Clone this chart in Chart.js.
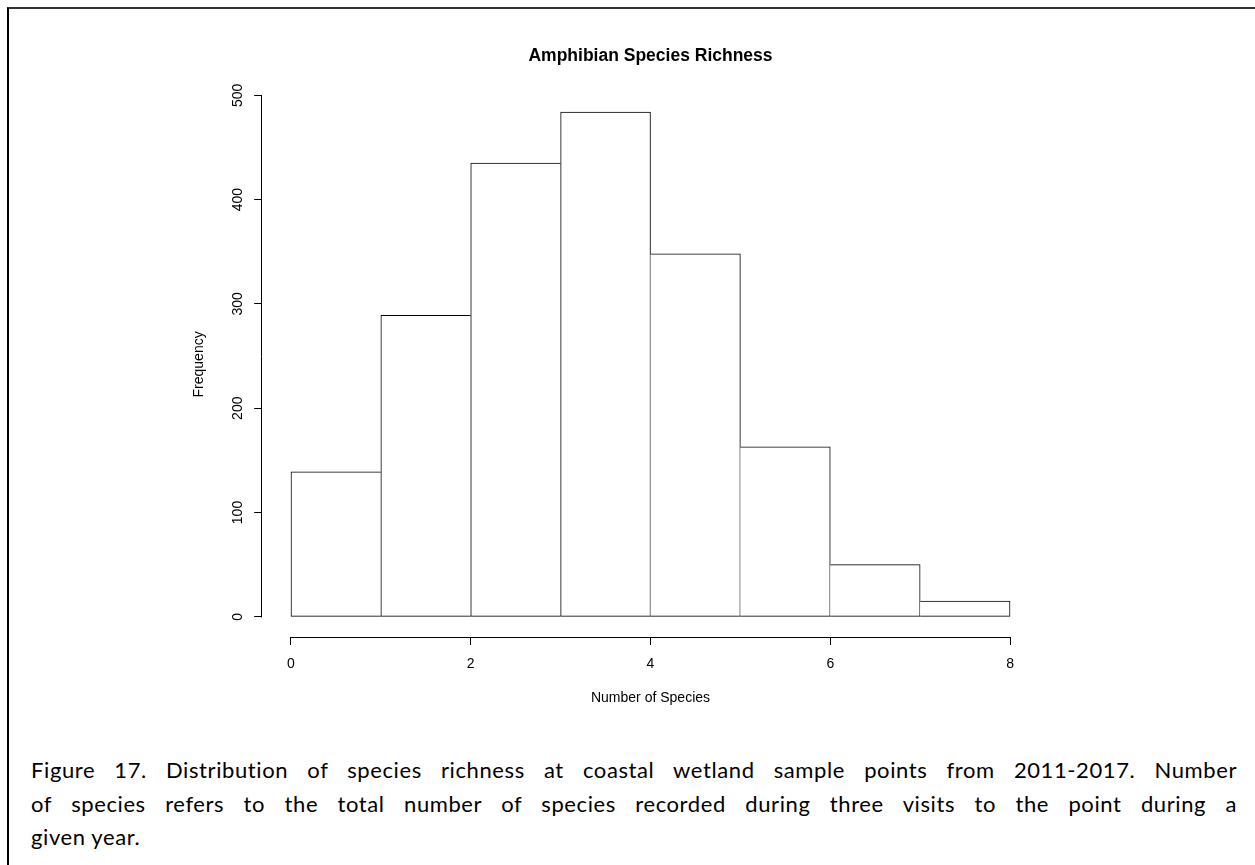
<!DOCTYPE html>
<html>
<head>
<meta charset="utf-8">
<script src="https://cdn.jsdelivr.net/npm/chart.js@4.4.1/dist/chart.umd.min.js"></script>
<style>
  html, body { margin: 0; padding: 0; background: #fff; }
  body { width: 1255px; height: 865px; position: relative; overflow: hidden; }
  #frame { position: absolute; left: 7px; top: 7px; width: 1300px; height: 900px;
           border-left: 2px solid #000; border-top: 2px solid #333; }
  #histCanvas { position: absolute; left: 0; top: 0; }
  #caption { position: absolute; left: 31px; top: 753px; width: 1206px;
             font-family: Lato, 'Open Sans', sans-serif; font-size: 22px; letter-spacing: 0.6px;
             line-height: 33.5px; color: #000; }
  #caption div { text-align: justify; text-align-last: justify; }
  #caption div.last { text-align-last: left; }
</style>
</head>
<body>
<div id="frame"></div>
<canvas id="histCanvas" width="1255" height="745"></canvas>
<div id="caption">
  <div>Figure 17. Distribution of species richness at coastal wetland sample points from 2011-2017. Number</div>
  <div>of species refers to the total number of species recorded during three visits to the point during a</div>
  <div class="last">given year.</div>
</div>
<script>
// histogram bins (number of species) and counts
const binEdges = [0, 1, 2, 3, 4, 5, 6, 7, 8];
const frequencies = [139, 289, 435, 484, 348, 163, 50, 15];
const xTickStep = 2;
const yTickStep = 100;

const chartTitle = 'Amphibian Species Richness';
const xLabel = 'Number of Species';
const yLabel = 'Frequency';

const rFont = "'Liberation Sans', Arial, Helvetica, sans-serif";

// R extends the plotting region by 4% on each side
const xLo = binEdges[0], xHi = binEdges[binEdges.length - 1];
const xExt = (xHi - xLo) * 0.04;
const yMaxData = Math.max(...frequencies);
const yExt = yMaxData * 0.04;

const points = frequencies.map((f, i) => ({ x: (binEdges[i] + binEdges[i + 1]) / 2, y: f }));
const last = frequencies.length - 1;

// one line per shared bar edge: the taller neighbour draws it
function edgeWidths(ctx) {
    const i = ctx.dataIndex;
    return {
        top: 1,
        bottom: 1,
        left: (i === 0 || frequencies[i] >= frequencies[i - 1]) ? 1 : 0,
        right: (i === last || frequencies[i] > frequencies[i + 1]) ? 1 : 0
    };
}

// axis lines drawn only between first and last tick, like R's axis()
const rAxes = {
    id: 'rAxes',
    afterDraw(chart) {
        const { ctx, scales: { x, y }, chartArea } = chart;
        const yt = y.ticks, xt = x.ticks;
        ctx.save();
        ctx.strokeStyle = '#000';
        ctx.lineWidth = 1;
        ctx.beginPath();
        const ax = Math.round(chartArea.left) - 0.5;
        ctx.moveTo(ax, Math.round(y.getPixelForValue(yt[0].value)) + 0.5);
        ctx.lineTo(ax, Math.round(y.getPixelForValue(yt[yt.length - 1].value)) + 0.5);
        const ay = Math.round(chartArea.bottom) + 0.5;
        ctx.moveTo(Math.round(x.getPixelForValue(xt[0].value)), ay);
        ctx.lineTo(Math.round(x.getPixelForValue(xt[xt.length - 1].value)) + 1, ay);
        ctx.stroke();
        ctx.restore();
    }
};

new Chart(document.getElementById('histCanvas').getContext('2d'), {
    type: 'bar',
    data: {
        datasets: [{
            label: yLabel,
            data: points,
            backgroundColor: '#fff',
            borderColor: '#000',
            borderWidth: edgeWidths,
            borderSkipped: false,
            barPercentage: 1,
            categoryPercentage: 1
        }]
    },
    options: {
        responsive: false,
        devicePixelRatio: 1,
        animation: false,
        layout: { padding: { left: 180, right: 216.2, top: 0, bottom: 0 } },
        plugins: {
            legend: { display: false },
            tooltip: { enabled: false },
            title: {
                display: true,
                text: chartTitle,
                fullSize: false,
                color: '#000',
                font: { family: rFont, size: 17.5, weight: 'bold' },
                padding: { top: 45.5, bottom: 25.3 }
            }
        },
        scales: {
            x: {
                type: 'linear',
                offset: false,
                min: xLo - xExt,
                max: xHi + xExt,
                afterFit: s => { s.height = 108; },
                border: { display: false },
                grid: { offset: false, drawOnChartArea: false, drawTicks: true, tickLength: 8, color: '#000' },
                ticks: {
                    stepSize: xTickStep, includeBounds: false, maxRotation: 0,
                    padding: 10.6, color: '#000', font: { family: rFont, size: 14 }
                },
                title: {
                    display: true, text: xLabel, color: '#000',
                    font: { family: rFont, size: 14 }, padding: { top: 0, bottom: 38.6 }
                }
            },
            y: {
                type: 'linear',
                min: -yExt,
                max: yMaxData + yExt,
                afterFit: s => { s.width = 82.2; },
                border: { display: false },
                grid: { drawOnChartArea: false, drawTicks: true, tickLength: 8, color: '#000' },
                ticks: {
                    stepSize: yTickStep, includeBounds: false,
                    minRotation: 90, maxRotation: 90, crossAlign: 'center',
                    padding: 4.5, color: '#000', font: { family: rFont, size: 14 }
                },
                title: {
                    display: true, text: yLabel, color: '#000',
                    font: { family: rFont, size: 14 }, padding: { top: 10.6, bottom: 0 }
                }
            }
        }
    },
    plugins: [rAxes]
});
</script>
</body>
</html>
